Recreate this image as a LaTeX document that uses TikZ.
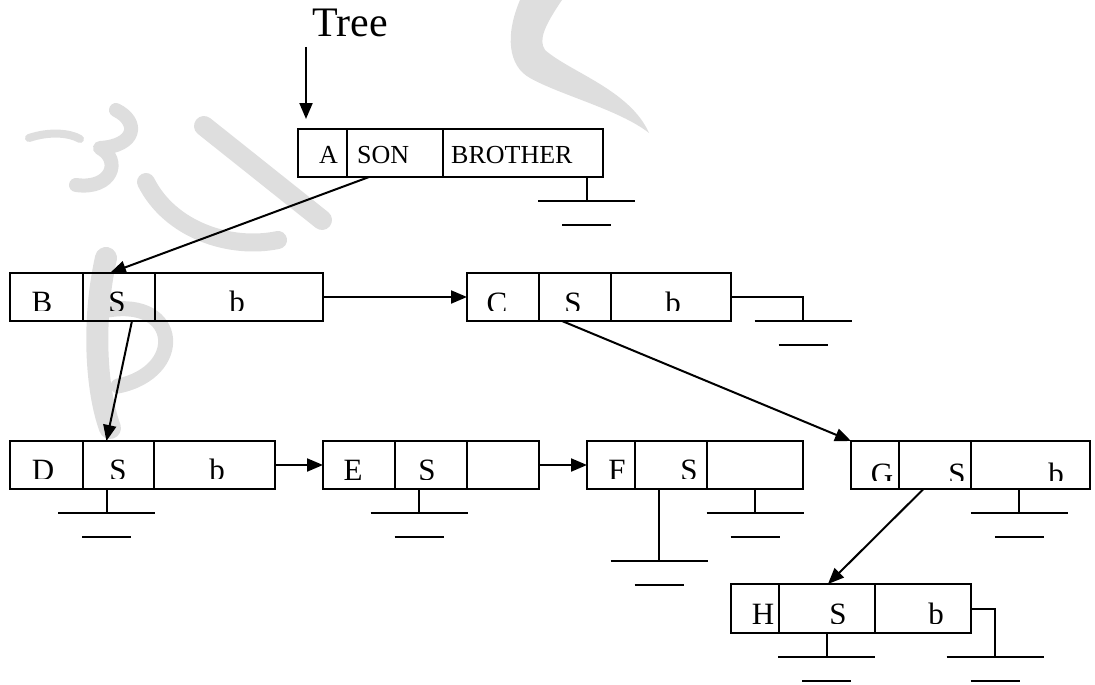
\documentclass[tikz,border=0pt]{standalone}
\usepackage{fontspec}
\setmainfont{Liberation Serif}
\usetikzlibrary{arrows.meta,calc}
\newcommand\cellnode[5]{\node[cell,minimum width={(#3-#2)*1pt},minimum height={(#5-#4)*1pt}] (#1) at ({(#2+#3)/2},{(#4+#5)/2}) {};}
\newcommand\gndat[3]{\coordinate (#1) at (#2,#3);
  \draw[gnd] ($(#1)+(-48.5,0)$) -- ($(#1)+(48.5,0)$);
  \draw[gnd] ($(#1)+(-24.5,24)$) -- ($(#1)+(24.5,24)$);}
\begin{document}
\begin{tikzpicture}[x=1pt,y=-1pt,
  cell/.style={draw,line width=2pt,inner sep=0pt,outer sep=0pt,rectangle},
  lbl/.style={inner sep=0pt,anchor=base,font=\fontsize{31}{31}\selectfont},
  albl/.style={inner sep=0pt,anchor=base west,font=\fontsize{26}{26}\selectfont},
  link/.style={line width=2pt,-{Triangle[length=16pt,width=13pt]}},
  gnd/.style={line width=2pt},
  wm/.style={draw=black!13,line cap=round,line join=round}]
\useasboundingbox (0,0) rectangle (1095,685);
% watermark
\fill[black!13] (520,0) -- (562,0) .. controls (545,25) and (538,40) .. (545,50)
  .. controls (570,72) and (630,90) .. (649,133)
  .. controls (620,110) and (560,95) .. (530,78)
  .. controls (508,66) and (505,35) .. (520,0) -- cycle;
\draw[wm,line width=8pt] (29,138) .. controls (50,131) and (70,133) .. (80,139);
\draw[wm,line width=14pt] (116,110) .. controls (140,122) and (136,146) .. (100,148)
  .. controls (122,160) and (112,190) .. (76,185);
\draw[wm,line width=20pt] (204,126) -- (322,220);
\draw[wm,line width=18pt] (146,182) .. controls (170,230) and (230,250) .. (278,240);
\draw[wm,line width=22pt] (106,258) .. controls (92,320) and (96,390) .. (110,428);
\draw[wm,line width=15pt] (108,310) .. controls (180,298) and (186,372) .. (118,386);
% cells
\cellnode{Aa}{298}{347}{129}{177}\cellnode{Ason}{347}{443}{129}{177}\cellnode{Abr}{443}{603}{129}{177}
\cellnode{Bb}{10}{83}{273}{321}\cellnode{Bs}{83}{155}{273}{321}\cellnode{Bp}{155}{323}{273}{321}
\cellnode{Cc}{467}{539}{273}{321}\cellnode{Cs}{539}{611}{273}{321}\cellnode{Cp}{611}{731}{273}{321}
\cellnode{Dd}{10}{83}{441}{489}\cellnode{Ds}{83}{154}{441}{489}\cellnode{Dp}{154}{275}{441}{489}
\cellnode{Ee}{323}{395}{441}{489}\cellnode{Es}{395}{467}{441}{489}\cellnode{Ep}{467}{539}{441}{489}
\cellnode{Ff}{587}{635}{441}{489}\cellnode{Fs}{635}{707}{441}{489}\cellnode{Fp}{707}{803}{441}{489}
\cellnode{Gg}{851}{899}{441}{489}\cellnode{Gs}{899}{971}{441}{489}\cellnode{Gp}{971}{1090}{441}{489}
\cellnode{Hh}{731}{779}{584}{633}\cellnode{Hs}{779}{875}{584}{633}\cellnode{Hp}{875}{971}{584}{633}
% texts
\node[inner sep=0pt,anchor=base west,font=\fontsize{42}{42}\selectfont] (tree) at (312,37) {Tree};
\node[albl,anchor=base] (tA) at (328.5,163.3) {A};
\node[albl] (tSON) at (357,163.3) {SON};
\node[albl] (tBR) at (451,163.3) {BROTHER};
\begin{scope}\clip (10,273) rectangle (323,310);
\node[lbl] (tB) at (42,312.5) {B};\node[lbl] (tBs) at (117,312.5) {S};\node[lbl] (tBp) at (237,312.5) {b};
\end{scope}
\begin{scope}\clip (467,273) rectangle (731,310);
\node[lbl] (tC) at (497,313) {C};\node[lbl] (tCs) at (573,313) {S};\node[lbl] (tCp) at (673,313) {b};
\end{scope}
\begin{scope}\clip (10,441) rectangle (275,478.5);
\node[lbl] (tD) at (43,480) {D};\node[lbl] (tDs) at (118,480) {S};\node[lbl] (tDp) at (217,480) {b};
\end{scope}
\begin{scope}\clip (323,441) rectangle (539,479);
\node[lbl] (tE) at (353,480.5) {E};\node[lbl] (tEs) at (427,480.5) {S};
\end{scope}
\begin{scope}\clip (587,441) rectangle (803,478.5);
\node[lbl] (tF) at (617,480.5) {F};\node[lbl] (tFs) at (689,480.5) {S};
\end{scope}
\begin{scope}\clip (851,441) rectangle (1090,480);
\node[lbl] (tG) at (882,484) {G};\node[lbl] (tGs) at (957,484) {S};\node[lbl] (tGp) at (1056,484) {b};
\end{scope}
\begin{scope}\clip (731,584) rectangle (971,623.5);
\node[lbl] (tH) at (763,624) {H};\node[lbl] (tHs) at (838,624) {S};\node[lbl] (tHp) at (936,624) {b};
\end{scope}
% links
\coordinate (t0) at (306,47);
\coordinate (t1) at (306,119);
\draw[link] (t0) -- (t1);
\draw[link] ($(Ason.south west)!0.23!(Ason.south east)$) -- ($(Bs.north west)!0.375!(Bs.north east)$);
\draw[link] ($(Bs.south west)!0.68!(Bs.south east)$) -- ($(Ds.north west)!0.33!(Ds.north east)$);
\draw[link] (Bp.east) -- (Cc.west);
\draw[link] ($(Cs.south west)!0.32!(Cs.south east)$) -- (Gg.north west);
\draw[link] (Dp.east) -- (Ee.west);
\draw[link] (Ep.east) -- (Ff.west);
\draw[link] ($(Gs.south west)!0.34!(Gs.south east)$) -- ($(Hs.north west)!0.51!(Hs.north east)$);
% grounds
\gndat{gA}{586.7}{201}\draw[gnd] (Abr.south -| gA) -- (gA);
\gndat{gC}{803}{321}\draw[gnd] (Cp.east) -| (gC);
\gndat{gD}{106.7}{513.3}\draw[gnd] (Ds.south -| gD) -- (gD);
\gndat{gE}{419}{513.3}\draw[gnd] (Es.south -| gE) -- (gE);
\gndat{gF}{659}{561}\draw[gnd] (Fs.south -| gF) -- (gF);
\gndat{gFb}{755}{513.3}\draw[gnd] (Fp.south -| gFb) -- (gFb);
\gndat{gG}{1019.3}{513.3}\draw[gnd] (Gp.south -| gG) -- (gG);
\gndat{gH}{826.7}{657.3}\draw[gnd] (Hs.south -| gH) -- (gH);
\gndat{gHb}{995}{657.3}\draw[gnd] (Hp.east) -| (gHb);
\end{tikzpicture}
\end{document}
